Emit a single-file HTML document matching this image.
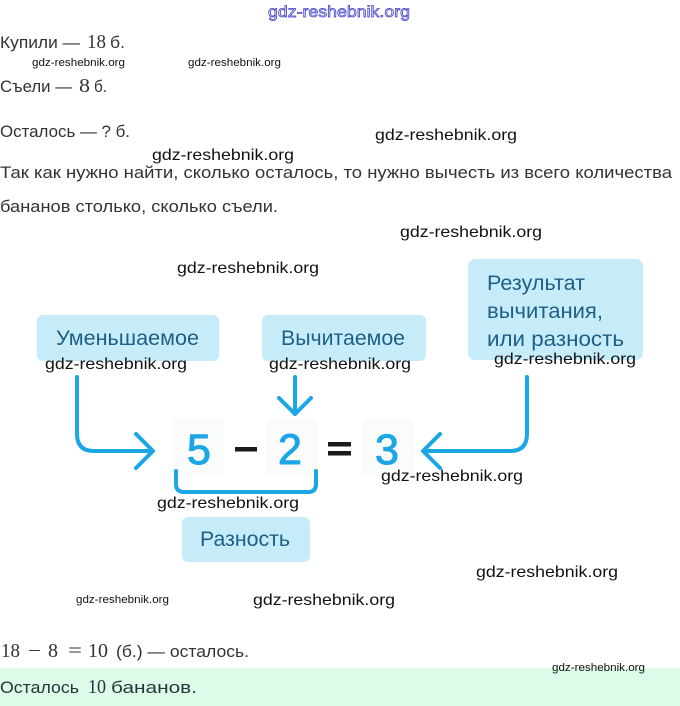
<!DOCTYPE html>
<html><head><meta charset="utf-8"><style>
html,body{margin:0;padding:0;background:#fff;}
svg{display:block;}
.t{font-family:"Liberation Sans","Noto Sans CJK SC",sans-serif;font-size:17px;fill:#333;}
.m{font-family:"Liberation Serif",serif;font-size:20px;fill:#333;}
.w{font-family:"Liberation Sans",sans-serif;font-size:16px;fill:#111;}
.ws{font-family:"Liberation Sans",sans-serif;font-size:11px;fill:#111;}
.b{font-family:"Liberation Sans",sans-serif;font-size:21px;fill:#1e5f87;}
.d{font-family:"Liberation Sans",sans-serif;font-size:43px;fill:#1ba6e6;stroke:#1ba6e6;stroke-width:1;}
</style></head><body>
<svg width="680" height="706" viewBox="0 0 680 706" xmlns="http://www.w3.org/2000/svg">
<rect x="0" y="0" width="680" height="706" fill="#fff"/>
<!-- top watermark -->
<text x="268" y="17" font-family="Liberation Sans, sans-serif" font-size="16" fill="#e6e6fa" stroke="#3a3ac8" stroke-width="0.7" textLength="142" lengthAdjust="spacingAndGlyphs">gdz-reshebnik.org</text>

<!-- upper text -->
<text class="t" x="0" y="48" textLength="80" lengthAdjust="spacingAndGlyphs">Купили —</text>
<text class="m" x="87" y="48" textLength="19" lengthAdjust="spacingAndGlyphs">18</text>
<text class="t" x="110" y="48" textLength="15" lengthAdjust="spacingAndGlyphs">б.</text>

<text class="t" x="0" y="92" textLength="72" lengthAdjust="spacingAndGlyphs">Съели —</text>
<text class="m" x="79" y="92" textLength="11" lengthAdjust="spacingAndGlyphs">8</text>
<text class="t" x="94" y="92" textLength="13" lengthAdjust="spacingAndGlyphs">б.</text>

<text class="t" x="0" y="137" textLength="130" lengthAdjust="spacingAndGlyphs">Осталось — ? б.</text>

<text class="t" x="0" y="178" textLength="672" lengthAdjust="spacingAndGlyphs">Так как нужно найти, сколько осталось, то нужно вычесть из всего количества</text>
<text class="t" x="0" y="212" textLength="278" lengthAdjust="spacingAndGlyphs">бананов столько, сколько съели.</text>

<!-- boxes -->
<rect x="37" y="315" width="182" height="46" rx="6" fill="#c6ecf9"/>
<rect x="262" y="315" width="164" height="46" rx="6" fill="#c6ecf9"/>
<rect x="468" y="259" width="175" height="101" rx="7" fill="#c6ecf9"/>
<rect x="182" y="517" width="128" height="45" rx="6" fill="#c6ecf9"/>

<text class="b" x="56" y="345" textLength="143" lengthAdjust="spacingAndGlyphs">Уменьшаемое</text>
<text class="b" x="281" y="345" textLength="124" lengthAdjust="spacingAndGlyphs">Вычитаемое</text>
<text class="b" x="487" y="290" textLength="98" lengthAdjust="spacingAndGlyphs">Результат</text>
<text class="b" x="487" y="318" textLength="116" lengthAdjust="spacingAndGlyphs">вычитания,</text>
<text class="b" x="487" y="346" textLength="137" lengthAdjust="spacingAndGlyphs">или разность</text>
<text class="b" x="200" y="546" textLength="90" lengthAdjust="spacingAndGlyphs">Разность</text>

<!-- faint digit backgrounds -->
<rect x="172" y="418" width="52" height="58" fill="#fafbfb"/>
<rect x="266" y="418" width="52" height="58" fill="#fafbfb"/>
<rect x="362" y="418" width="52" height="58" fill="#fafbfb"/>

<!-- arrows -->
<g fill="none" stroke="#1ba6e6" stroke-width="4" stroke-linecap="round" stroke-linejoin="round">
<path d="M77,377 V434 Q77,451 94,451 H152"/>
<path d="M136,434 L153,451 L136,468"/>
<path d="M295,377 V414"/>
<path d="M279,398 L295,414 L311,398"/>
<path d="M527,377 V434 Q527,451 510,451 H424"/>
<path d="M440,434 L423,451 L440,468"/>
<path d="M176,471 V484 Q176,492 184,492 H308 Q316,492 316,484 V471"/>
</g>

<!-- equation -->
<text class="d" x="187" y="464">5</text>
<rect x="235" y="447" width="22" height="4.5" fill="#1a1a1a"/>
<text class="d" x="278" y="464">2</text>
<rect x="328" y="442" width="23" height="4.5" fill="#1a1a1a"/>
<rect x="328" y="451" width="23" height="4.5" fill="#1a1a1a"/>
<text class="d" x="375" y="464">3</text>

<!-- bottom -->
<text class="m" x="1" y="657" textLength="19" lengthAdjust="spacingAndGlyphs">18</text>
<text class="m" x="28" y="657" textLength="13" lengthAdjust="spacingAndGlyphs">−</text>
<text class="m" x="48" y="657" textLength="10" lengthAdjust="spacingAndGlyphs">8</text>
<text class="m" x="68" y="657" textLength="14" lengthAdjust="spacingAndGlyphs">=</text>
<text class="m" x="88" y="657" textLength="20" lengthAdjust="spacingAndGlyphs">10</text>
<text class="t" x="116" y="657" textLength="133" lengthAdjust="spacingAndGlyphs">(б.) — осталось.</text>

<rect x="0" y="668" width="680" height="38" fill="#dcfbe9"/>
<text class="t" x="0" y="693" textLength="79" lengthAdjust="spacingAndGlyphs" style="fill:#27363a">Осталось</text>
<text class="m" x="88" y="693" textLength="18" lengthAdjust="spacingAndGlyphs" style="fill:#27363a">10</text>
<text class="t" x="111" y="693" textLength="86" lengthAdjust="spacingAndGlyphs" style="fill:#27363a">бананов.</text>

<!-- black watermarks -->
<text class="ws" x="32" y="66" textLength="93" lengthAdjust="spacingAndGlyphs">gdz-reshebnik.org</text>
<text class="ws" x="188" y="66" textLength="93" lengthAdjust="spacingAndGlyphs">gdz-reshebnik.org</text>
<text class="w" x="375" y="140" textLength="142" lengthAdjust="spacingAndGlyphs">gdz-reshebnik.org</text>
<text class="w" x="152" y="160" textLength="142" lengthAdjust="spacingAndGlyphs">gdz-reshebnik.org</text>
<text class="w" x="400" y="237" textLength="142" lengthAdjust="spacingAndGlyphs">gdz-reshebnik.org</text>
<text class="w" x="177" y="273" textLength="142" lengthAdjust="spacingAndGlyphs">gdz-reshebnik.org</text>
<text class="w" x="45" y="369" textLength="142" lengthAdjust="spacingAndGlyphs">gdz-reshebnik.org</text>
<text class="w" x="269" y="369" textLength="142" lengthAdjust="spacingAndGlyphs">gdz-reshebnik.org</text>
<text class="w" x="494" y="364" textLength="142" lengthAdjust="spacingAndGlyphs">gdz-reshebnik.org</text>
<text class="w" x="381" y="481" textLength="142" lengthAdjust="spacingAndGlyphs">gdz-reshebnik.org</text>
<text class="w" x="157" y="508" textLength="142" lengthAdjust="spacingAndGlyphs">gdz-reshebnik.org</text>
<text class="w" x="476" y="577" textLength="142" lengthAdjust="spacingAndGlyphs">gdz-reshebnik.org</text>
<text class="w" x="253" y="605" textLength="142" lengthAdjust="spacingAndGlyphs">gdz-reshebnik.org</text>
<text class="ws" x="76" y="603" textLength="93" lengthAdjust="spacingAndGlyphs">gdz-reshebnik.org</text>
<text class="ws" x="552" y="671" textLength="93" lengthAdjust="spacingAndGlyphs">gdz-reshebnik.org</text>
</svg>
</body></html>
